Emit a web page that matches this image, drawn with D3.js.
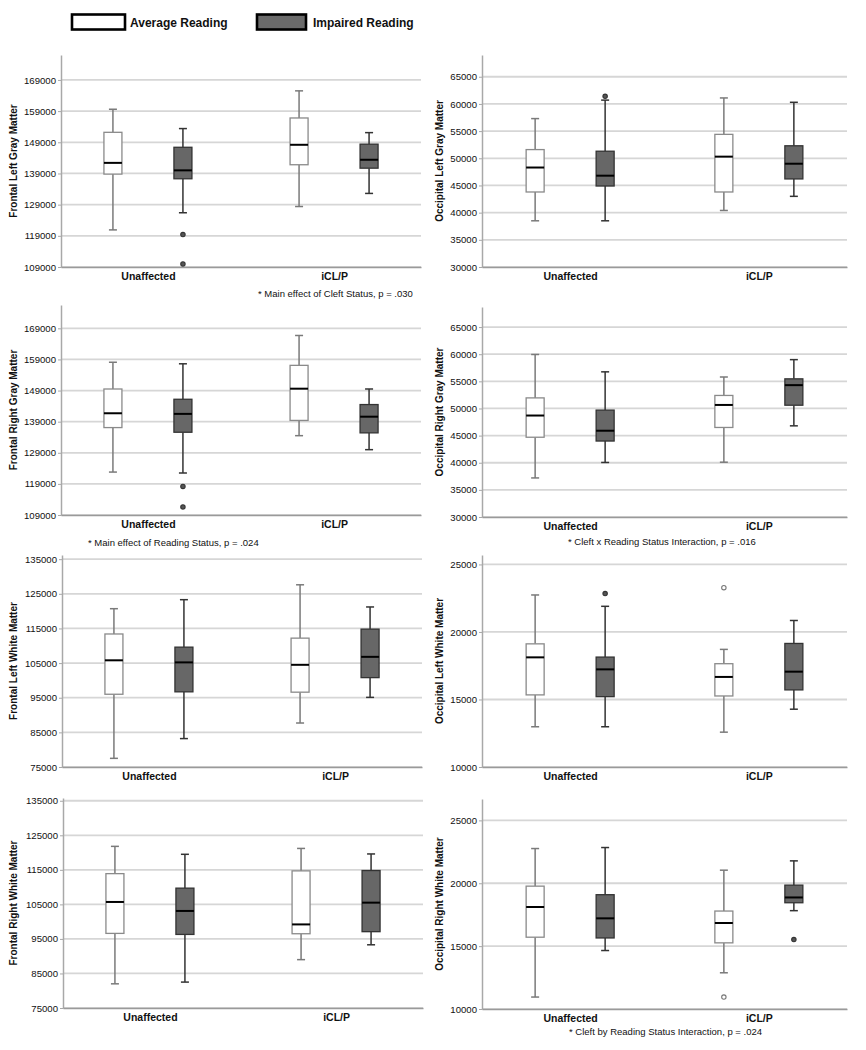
<!DOCTYPE html>
<html><head><meta charset="utf-8">
<script src="https://cdn.jsdelivr.net/npm/d3@7"></script>
<style>body{margin:0;background:#fff}svg{display:block}</style>
</head><body><svg id="c" width="866" height="1050"></svg>
<script>
// ---------- DATA ----------
const categories = ["Unaffected", "iCL/P"];
const readingGroups = ["Average Reading", "Impaired Reading"];
const measures = [
  "Frontal Left Gray Matter", "Occipital Left Gray Matter",
  "Frontal Right Gray Matter", "Occipital Right Gray Matter",
  "Frontal Left White Matter", "Occipital Left White Matter",
  "Frontal Right White Matter", "Occipital Right White Matter"
];
// box stats [min, q1, median, q3, max]; rows: Unaffected-Average, Unaffected-Impaired, iCL/P-Average, iCL/P-Impaired
const frontalLeftGray = [
  [120900, 138800, 142400, 152200, 159600],
  [126400, 137300, 140000, 147400, 153400],
  [128400, 141800, 148200, 156800, 165500],
  [132600, 140700, 143400, 148400, 152100]
];
const occipitalLeftGray = [
  [38500, 43800, 48300, 51600, 57300],
  [38500, 44900, 46800, 51300, 60700],
  [40400, 43800, 50300, 54400, 61100],
  [43000, 46200, 49000, 52300, 60300]
];
const frontalRightGray = [
  [122800, 137100, 141700, 149500, 158100],
  [122500, 135600, 141500, 146200, 157600],
  [134500, 139400, 149600, 157100, 166700],
  [130000, 135400, 140600, 144500, 149500]
];
const occipitalRightGray = [
  [37200, 44700, 48700, 51950, 59950],
  [40050, 44000, 45900, 49700, 56750],
  [40100, 46500, 50650, 52400, 55800],
  [46800, 50600, 54300, 55460, 59000]
];
const frontalLeftWhite = [
  [77500, 96000, 105800, 113400, 120700],
  [83200, 96700, 105200, 109600, 123300],
  [87700, 96600, 104500, 112200, 127600],
  [95100, 100800, 106800, 114800, 121200]
];
const occipitalLeftWhite = [
  [12980, 15340, 18120, 19120, 22740],
  [12980, 15210, 17230, 18140, 21900],
  [12580, 15260, 16670, 17650, 18710],
  [14280, 15710, 17060, 19150, 20850]
];
const frontalRightWhite = [
  [82000, 96600, 105700, 113900, 121800],
  [82500, 96300, 103100, 109700, 119500],
  [89000, 96500, 99200, 114700, 121200],
  [93300, 97100, 105500, 114800, 119600]
];
const occipitalRightWhite = [
  [10950, 15710, 18110, 19770, 22760],
  [14650, 15650, 17210, 19090, 22840],
  [12880, 15260, 16840, 17790, 21040],
  [17820, 18450, 18870, 19850, 21780]
];
const boxData = [frontalLeftGray, occipitalLeftGray, frontalRightGray, occipitalRightGray,
                 frontalLeftWhite, occipitalLeftWhite, frontalRightWhite, occipitalRightWhite];

// outliers: [panel, category, group, value]
const outliers = [
  [0, "Unaffected", "Impaired Reading", 119400],
  [0, "Unaffected", "Impaired Reading", 110000],
  [1, "Unaffected", "Impaired Reading", 61400],
  [2, "Unaffected", "Impaired Reading", 118200],
  [2, "Unaffected", "Impaired Reading", 111600],
  [5, "Unaffected", "Impaired Reading", 22840],
  [5, "iCL/P", "Average Reading", 23280],
  [7, "iCL/P", "Average Reading", 10950],
  [7, "iCL/P", "Impaired Reading", 15520]
];

const ticksFrontalGray = [109000, 119000, 129000, 139000, 149000, 159000, 169000];
const ticksOccipitalGray = [30000, 35000, 40000, 45000, 50000, 55000, 60000, 65000];
const ticksFrontalWhite = [75000, 85000, 95000, 105000, 115000, 125000, 135000];
const ticksOccipitalWhite = [10000, 15000, 20000, 25000];
const panelTicks = [ticksFrontalGray, ticksOccipitalGray, ticksFrontalGray, ticksOccipitalGray,
                    ticksFrontalWhite, ticksOccipitalWhite, ticksFrontalWhite, ticksOccipitalWhite];
const panelMax = [177000, 69000, 176500, 68700, 136200, 25700, 135800, 26700];

const notes = [
  "* Main effect of Cleft Status, p = .030",
  "* Main effect of Reading Status, p = .024",
  "* Cleft x Reading Status Interaction, p = .016",
  "* Cleft by Reading Status Interaction, p = .024"
];

// ---------- LAYOUT ----------
const layout = [
  {x0: 61, x1: 421, top: 55, bottom: 267, tx: 17},
  {x0: 482, x1: 847, top: 55, bottom: 267, tx: 443},
  {x0: 61, x1: 421, top: 305, bottom: 515, tx: 17},
  {x0: 482, x1: 847, top: 307, bottom: 517, tx: 443},
  {x0: 62, x1: 422, top: 555, bottom: 767, tx: 17},
  {x0: 482, x1: 847, top: 555, bottom: 767, tx: 443},
  {x0: 63, x1: 423, top: 798, bottom: 1008, tx: 17},
  {x0: 482, x1: 847, top: 799, bottom: 1009, tx: 443}
];
const notePos = [
  {x: 258, y: 297}, {x: 88, y: 546}, {x: 568, y: 545}, {x: 569, y: 1035}
];

const FONT = "'Liberation Sans', Arial, Helvetica, sans-serif";
const svg = d3.select("#c").style("font-family", FONT);

const groupOffset = d3.scalePoint().domain(readingGroups).range([-35, 35]);
const groupStyle = {
  "Average Reading": {fill: "#ffffff", stroke: "#8a8a8a", whisker: "#7a7a7a"},
  "Impaired Reading": {fill: "#676767", stroke: "#333333", whisker: "#333333"}
};
const BW = 18, CAP = 8;

layout.forEach((L, i) => {
  const y = d3.scaleLinear().domain([panelTicks[i][0], panelMax[i]]).range([L.bottom, L.top]);
  const x = d3.scalePoint().domain(categories).range([L.x0, L.x1]).padding(0.467);
  const g = svg.append("g");

  // gridlines
  g.append("g").selectAll("line").data(panelTicks[i]).join("line")
    .attr("x1", L.x0).attr("x2", L.x1)
    .attr("y1", d => y(d)).attr("y2", d => y(d))
    .attr("stroke", "#d6d6d6").attr("stroke-width", 1.8);

  // left axis
  const ya = g.append("g").attr("transform", `translate(${L.x0},0)`)
    .call(d3.axisLeft(y).tickValues(panelTicks[i]).tickSize(3).tickSizeOuter(0)
      .tickPadding(2).tickFormat(d3.format("d")));
  ya.select(".domain").attr("stroke", "#a8a8a8").attr("stroke-width", 1.5);
  ya.selectAll(".tick line").attr("stroke", "#a8a8a8");
  ya.selectAll(".tick text").attr("fill", "#111").style("font-size", "9.6px")
    .style("font-family", FONT);

  // bottom axis
  const xa = g.append("g").attr("transform", `translate(0,${L.bottom})`)
    .call(d3.axisBottom(x).tickSize(0).tickSizeOuter(0).tickPadding(6));
  xa.select(".domain").attr("stroke", "#9a9a9a").attr("stroke-width", 1.5);
  xa.selectAll(".tick text").attr("fill", "#111").style("font-size", "10.5px")
    .style("font-weight", "bold").style("font-family", FONT);

  // y title
  g.append("text")
    .attr("transform", `translate(${L.tx},${(L.top + L.bottom) / 2}) rotate(-90)`)
    .attr("text-anchor", "middle").attr("fill", "#111")
    .style("font-size", "10px").style("font-weight", "bold")
    .text(measures[i]);

  // boxes
  const rows = [];
  categories.forEach((c, ci) => readingGroups.forEach((gr, gi) => {
    rows.push({c, gr, s: boxData[i][ci * 2 + gi]});
  }));
  rows.forEach(r => {
    const cx = x(r.c) + groupOffset(r.gr);
    const st = groupStyle[r.gr];
    const [mn, q1, md, q3, mx] = r.s;
    const bg = g.append("g");
    bg.append("line").attr("x1", cx).attr("x2", cx).attr("y1", y(mx)).attr("y2", y(q3))
      .attr("stroke", st.whisker).attr("stroke-width", 1.5);
    bg.append("line").attr("x1", cx).attr("x2", cx).attr("y1", y(q1)).attr("y2", y(mn))
      .attr("stroke", st.whisker).attr("stroke-width", 1.5);
    [mx, mn].forEach(v => bg.append("line")
      .attr("x1", cx - CAP / 2).attr("x2", cx + CAP / 2).attr("y1", y(v)).attr("y2", y(v))
      .attr("stroke", st.whisker).attr("stroke-width", 1.5));
    bg.append("rect").attr("x", cx - BW / 2).attr("width", BW)
      .attr("y", y(q3)).attr("height", y(q1) - y(q3))
      .attr("fill", st.fill).attr("stroke", st.stroke).attr("stroke-width", 1.3);
    bg.append("line").attr("x1", cx - BW / 2).attr("x2", cx + BW / 2)
      .attr("y1", y(md)).attr("y2", y(md)).attr("stroke", "#000").attr("stroke-width", 2);
  });

  // outliers
  outliers.filter(o => o[0] === i).forEach(o => {
    const cx = x(o[1]) + groupOffset(o[2]);
    const imp = o[2] === "Impaired Reading";
    g.append("circle").attr("cx", cx).attr("cy", y(o[3])).attr("r", 2.2)
      .attr("fill", imp ? "#555" : "#fff")
      .attr("stroke", imp ? "#333" : "#777").attr("stroke-width", 1.1);
  });
});

// notes
notes.forEach((t, k) => {
  svg.append("text").attr("x", notePos[k].x).attr("y", notePos[k].y)
    .attr("fill", "#111").style("font-size", "9.5px").text(t);
});

// legend
const legendPos = [{bx: 72, bw: 53, tx: 130}, {bx: 257, bw: 49, tx: 313}];
readingGroups.forEach((gr, k) => {
  const P = legendPos[k];
  svg.append("rect").attr("x", P.bx).attr("y", 14.5).attr("width", P.bw).attr("height", 15)
    .attr("fill", groupStyle[gr].fill === "#ffffff" ? "#fff" : "#6b6b6b")
    .attr("stroke", "#000").attr("stroke-width", 2.6);
  svg.append("text").attr("x", P.tx).attr("y", 26.5).attr("fill", "#111")
    .style("font-size", "12px").style("font-weight", "bold").text(gr);
});
</script>
</body></html>
